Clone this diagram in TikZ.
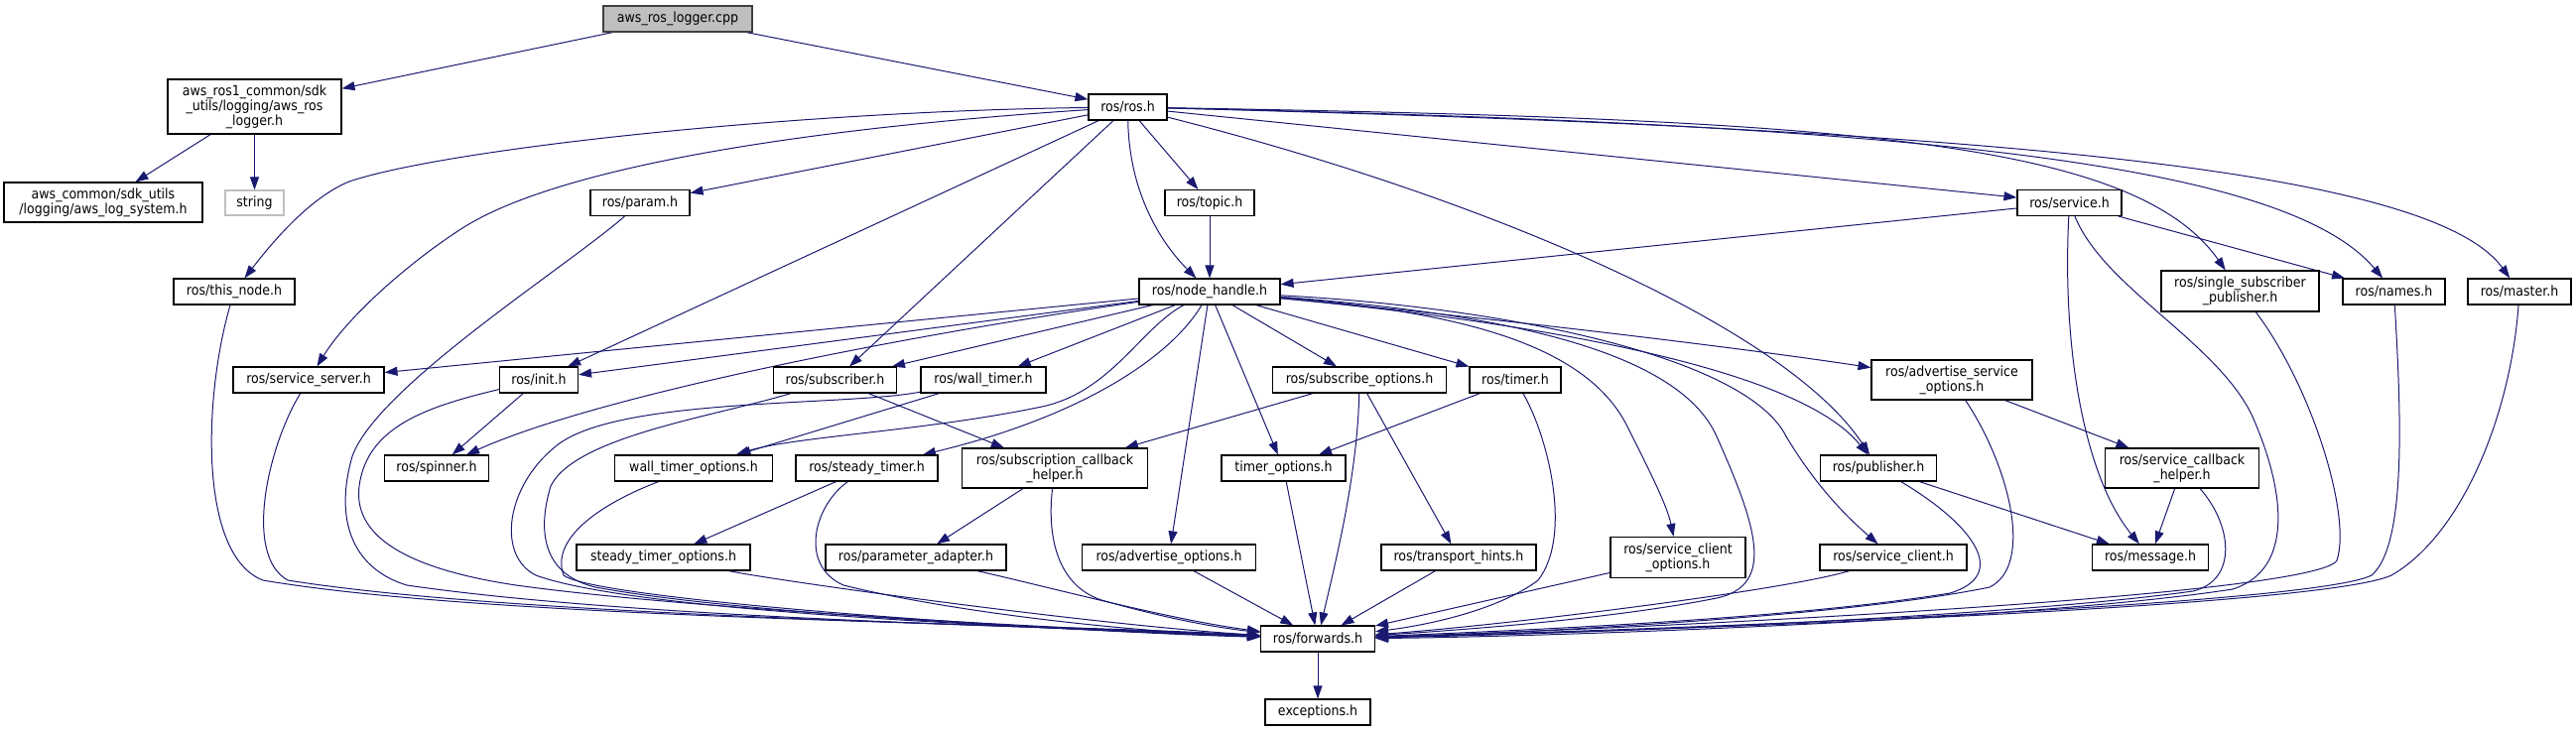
\documentclass[tikz,border=0pt]{standalone}
\usepackage{fontspec}
\setmainfont{DejaVu Sans Condensed}
\usetikzlibrary{arrows.meta}
\definecolor{edgeblue}{HTML}{191970}
\definecolor{cppfill}{HTML}{BFBFBF}
\definecolor{cppdraw}{HTML}{404040}
\definecolor{lightborder}{HTML}{BFBFBF}
\pgfdeclarelayer{bg}
\pgfsetlayers{bg,main}
\tikzset{
  box/.style={draw=black, line width=1.1pt, fill=white, inner sep=0pt, align=center,
    minimum height=26pt, font=\fontsize{14}{15}\selectfont},
  edge/.style={draw=edgeblue, line width=1pt, -{Triangle[length=13pt,width=9pt]}},
}
\begin{document}
\begin{tikzpicture}[x=1pt,y=-1pt]
\useasboundingbox (0,0) rectangle (2596,737);
% nodes
\node[box,fill=cppfill,draw=cppdraw,minimum width=150pt] (cpp) at (683,19) {aws\_ros\_logger.cpp};
\node[box,minimum width=175pt,minimum height=55pt] (awsros) at (256.5,107.5) {aws\_ros1\_common/sdk\\\_utils/logging/aws\_ros\\\_logger.h};
\node[box,minimum width=200pt,minimum height=40pt] (awslog) at (104,204) {aws\_common/sdk\_utils\\/logging/aws\_log\_system.h};
\node[box,draw=lightborder,minimum width=59pt,minimum height=25pt] (string) at (256.5,204.5) {string};
\node[box,minimum width=100pt] (param) at (645,204.5) {ros/param.h};
\node[box,minimum width=79pt] (rosh) at (1136.5,108) {ros/ros.h};
\node[box,minimum width=90pt] (topic) at (1219,204.5) {ros/topic.h};
\node[box,minimum width=105pt] (service) at (2085.5,204.5) {ros/service.h};
\node[box,minimum width=122pt] (thisnode) at (236,294) {ros/this\_node.h};
\node[box,minimum width=142pt] (nh) at (1219,294) {ros/node\_handle.h};
\node[box,minimum width=159pt,minimum height=41pt] (ssp) at (2257.5,293.5) {ros/single\_subscriber\\\_publisher.h};
\node[box,minimum width=103pt] (names) at (2412.5,294) {ros/names.h};
\node[box,minimum width=104pt] (master) at (2539,294) {ros/master.h};
\node[box,minimum width=152pt] (srvserver) at (311,383) {ros/service\_server.h};
\node[box,minimum width=79pt] (init) at (543,383) {ros/init.h};
\node[box,minimum width=124pt] (subscriber) at (841.5,383) {ros/subscriber.h};
\node[box,minimum width=126pt] (walltimer) at (991,383) {ros/wall\_timer.h};
\node[box,minimum width=175pt] (subopts) at (1370,383) {ros/subscribe\_options.h};
\node[box,minimum width=92pt] (timer) at (1527,383) {ros/timer.h};
\node[box,minimum width=162pt,minimum height=40pt] (advsrvopts) at (1967,383) {ros/advertise\_service\\\_options.h};
\node[box,minimum width=105pt] (spinner) at (440,472) {ros/spinner.h};
\node[box,minimum width=159pt] (wto) at (699,472) {wall\_timer\_options.h};
\node[box,minimum width=143pt] (steady) at (873.5,472) {ros/steady\_timer.h};
\node[box,minimum width=187pt,minimum height=40pt] (sch) at (1063,472) {ros/subscription\_callback\\\_helper.h};
\node[box,minimum width=125pt] (timeropts) at (1293.5,472) {timer\_options.h};
\node[box,minimum width=117pt] (publisher) at (1893,472) {ros/publisher.h};
\node[box,minimum width=155pt,minimum height=40pt] (scbh) at (2199,472) {ros/service\_callback\\\_helper.h};
\node[box,minimum width=175pt] (sto) at (668.5,562) {steady\_timer\_options.h};
\node[box,minimum width=182pt] (paramadapt) at (923,562) {ros/parameter\_adapter.h};
\node[box,minimum width=175pt] (advopts) at (1178,562) {ros/advertise\_options.h};
\node[box,minimum width=156pt] (hints) at (1470,562) {ros/transport\_hints.h};
\node[box,minimum width=136pt,minimum height=41pt] (sco) at (1691,562) {ros/service\_client\\\_options.h};
\node[box,minimum width=148pt] (sclient) at (1908,562) {ros/service\_client.h};
\node[box,minimum width=117pt] (message) at (2167,562) {ros/message.h};
\node[box,minimum width=115pt] (fwd) at (1328,644) {ros/forwards.h};
\node[box,minimum width=106pt] (exc) at (1328,718) {exceptions.h};
% edges
\begin{pgfonlayer}{bg}
\draw[edge] (cpp) -- (awsros);
\draw[edge] (cpp) -- (rosh);
\draw[edge] (awsros) -- (awslog);
\draw[edge] (awsros) -- (string);
% ros.h
\draw[edge] (rosh) .. controls (800,112) and (450,150) .. (352,183) .. controls (310,200) and (270,250) .. (thisnode);
\draw[edge] (rosh) .. controls (800,130) and (560,170) .. (466,230) .. controls (410,266) and (350,320) .. (srvserver);
\draw[edge] (rosh) -- (param);
\draw[edge] (rosh) -- (init);
\draw[edge] (rosh) -- (subscriber);
\draw[edge] (rosh) .. controls (1138,200) and (1175,250) .. (nh);
\draw[edge] (rosh) -- (topic);
\draw[edge] (rosh) -- (service);
\draw[edge] (rosh) .. controls (1500,200) and (1800,330) .. (publisher);
\draw[edge] (rosh) .. controls (1850,120) and (2150,140) .. (ssp);
\draw[edge] (rosh) .. controls (1900,125) and (2300,160) .. (names);
\draw[edge] (rosh) .. controls (2000,130) and (2450,170) .. (master);
\draw[edge] (topic) -- (nh);
% service.h
\draw[edge] (service) -- (nh);
\draw[edge] (service) -- (names);
\draw[edge] (service) .. controls (2078,350) and (2100,480) .. (message);
% node_handle.h
\draw[edge] (nh) -- (srvserver);
\draw[edge] (nh) -- (init);
\draw[edge] (nh) .. controls (900,340) and (600,400) .. (spinner);
\draw[edge] (nh) -- (subscriber);
\draw[edge] (nh) -- (walltimer);
\draw[edge] (nh) .. controls (1150,330) and (1120,395) .. (1050,410) .. controls (930,435) and (800,440) .. (wto);
\draw[edge] (nh) .. controls (1180,360) and (1090,420) .. (steady);
\draw[edge] (nh) -- (advopts);
\draw[edge] (nh) -- (timeropts);
\draw[edge] (nh) -- (subopts);
\draw[edge] (nh) -- (timer);
\draw[edge] (nh) .. controls (1500,320) and (1750,350) .. (advsrvopts);
\draw[edge] (nh) .. controls (1600,330) and (1820,380) .. (publisher);
\draw[edge] (nh) .. controls (1480,315) and (1600,350) .. (1640,430) .. controls (1665,480) and (1680,510) .. (sco);
\draw[edge] (nh) .. controls (1520,310) and (1760,360) .. (1800,440) .. controls (1830,490) and (1860,520) .. (sclient);
% others
\draw[edge] (init) -- (spinner);
\draw[edge] (walltimer) -- (wto);
\draw[edge] (subscriber) -- (sch);
\draw[edge] (subopts) -- (sch);
\draw[edge] (subopts) -- (hints);
\draw[edge] (timer) -- (timeropts);
\draw[edge] (steady) -- (sto);
\draw[edge] (sch) -- (paramadapt);
\draw[edge] (advsrvopts) -- (scbh);
\draw[edge] (scbh) -- (message);
\draw[edge] (publisher) -- (message);
\draw[edge] (fwd) -- (exc);
% into forwards.h from the left
\draw[edge] (thisnode) .. controls (205,400) and (200,560) .. (265,585) .. controls (500,625) and (1050,628) .. (fwd);
\draw[edge] (srvserver) .. controls (270,450) and (245,560) .. (290,585) .. controls (520,622) and (1050,630) .. (fwd);
\draw[edge] (param) .. controls (570,270) and (380,390) .. (355,460) .. controls (335,530) and (360,575) .. (410,590) .. controls (650,625) and (1080,632) .. (fwd);
\draw[edge] (init) .. controls (430,410) and (370,430) .. (362,490) .. controls (355,545) and (420,575) .. (520,590) .. controls (700,615) and (1080,634) .. (fwd);
\draw[edge] (walltimer) .. controls (850,410) and (620,400) .. (560,450) .. controls (510,490) and (500,560) .. (540,580) .. controls (650,620) and (1100,635) .. (fwd);
\draw[edge] (subscriber) .. controls (720,420) and (580,440) .. (555,490) .. controls (540,540) and (550,580) .. (600,592) .. controls (750,620) and (1100,636) .. (fwd);
\draw[edge] (wto) .. controls (600,510) and (555,545) .. (568,580) .. controls (600,605) and (1050,636) .. (fwd);
\draw[edge] (sto) .. controls (780,585) and (1100,630) .. (fwd);
\draw[edge] (steady) .. controls (820,510) and (805,570) .. (850,590) .. controls (950,615) and (1120,636) .. (fwd);
\draw[edge] (paramadapt) .. controls (1050,590) and (1180,625) .. (fwd);
\draw[edge] (sch) .. controls (1055,540) and (1065,590) .. (1110,605) .. controls (1170,622) and (1220,632) .. (fwd);
\draw[edge] (advopts) -- (fwd);
\draw[edge] (timeropts) -- (fwd);
\draw[edge] (subopts) .. controls (1368,480) and (1345,570) .. (fwd);
\draw[edge] (hints) -- (fwd);
\draw[edge] (timer) .. controls (1560,440) and (1585,540) .. (1550,585) .. controls (1510,615) and (1440,630) .. (fwd);
% into forwards.h from the right
\draw[edge] (nh) .. controls (1500,315) and (1690,350) .. (1730,440) .. controls (1770,530) and (1790,590) .. (1730,603) .. controls (1620,625) and (1460,636) .. (fwd);
\draw[edge] (sco) -- (fwd);
\draw[edge] (sclient) .. controls (1800,595) and (1520,630) .. (fwd);
\draw[edge] (publisher) .. controls (1990,530) and (2025,580) .. (1965,598) .. controls (1800,625) and (1520,636) .. (fwd);
\draw[edge] (advsrvopts) .. controls (2025,470) and (2050,570) .. (2005,592) .. controls (1860,622) and (1540,638) .. (fwd);
\draw[edge] (scbh) .. controls (2250,530) and (2255,585) .. (2210,596) .. controls (2000,625) and (1540,640) .. (fwd);
\draw[edge] (service) .. controls (2120,290) and (2235,345) .. (2270,420) .. controls (2305,500) and (2310,575) .. (2250,594) .. controls (2050,625) and (1560,642) .. (fwd);
\draw[edge] (ssp) .. controls (2330,390) and (2370,520) .. (2355,565) .. controls (2335,600) and (1700,632) .. (fwd);
\draw[edge] (names) .. controls (2420,420) and (2425,550) .. (2390,580) .. controls (2330,610) and (1700,634) .. (fwd);
\draw[edge] (master) .. controls (2530,420) and (2480,540) .. (2410,580) .. controls (2340,612) and (1700,635) .. (fwd);
\end{pgfonlayer}
\end{tikzpicture}
\end{document}
